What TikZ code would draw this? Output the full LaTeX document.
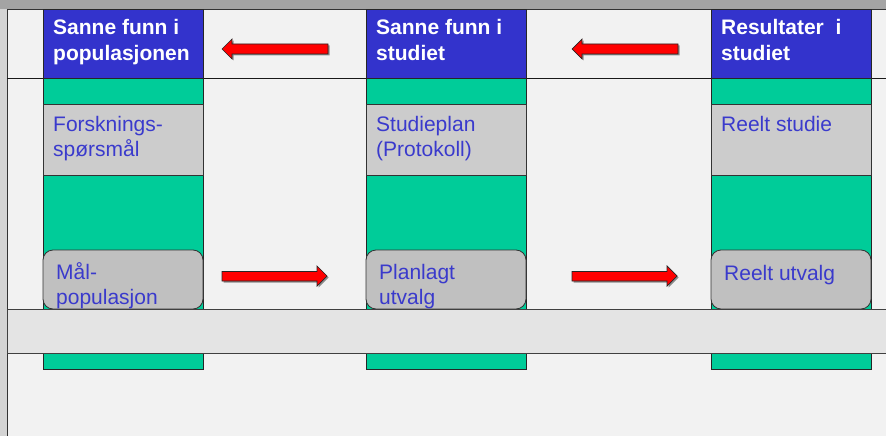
\documentclass[tikz,border=0pt]{standalone}
\usepackage{fontspec}
\setmainfont{Liberation Sans}
\definecolor{bgc}{HTML}{F2F2F2}
\definecolor{topbar}{HTML}{A4A4A4}
\definecolor{sidebar}{HTML}{D4D4D4}
\definecolor{hdrblue}{HTML}{3333CC}
\definecolor{colgreen}{HTML}{00CC99}
\definecolor{boxgray}{HTML}{CCCCCC}
\definecolor{rndgray}{HTML}{C0C0C0}
\definecolor{bandgray}{HTML}{E4E4E4}
\definecolor{txtblue}{HTML}{3A3ACC}
\definecolor{arrred}{HTML}{FF0000}
\begin{document}
\begin{tikzpicture}[x=1pt,y=-1pt,
  colgreenbox/.style={fill=colgreen,draw=black!85,line width=0.8pt},
  hdrbox/.style={fill=hdrblue,draw=black!85,line width=0.8pt},
  graybox/.style={fill=boxgray,draw=black!80,line width=0.8pt},
  rndbox/.style={fill=rndgray,draw=black!80,line width=0.8pt,rounded corners=10pt},
  hdrtxt/.style={anchor=base west,inner sep=0pt,text=white,font=\fontsize{21}{25}\selectfont\bfseries},
  bodytxt/.style={anchor=base west,inner sep=0pt,text=txtblue,font=\fontsize{21}{25}\selectfont},
  blockarrow/.style={fill=arrred,draw=black!85,line width=0.7pt,line join=miter},
  arrshadow/.style={fill=black!45,draw=none}
]
\useasboundingbox (0,0) rectangle (886,436);
% background
\fill[bgc] (0,0) rectangle (886,436);
\fill[topbar] (0,0) rectangle (886,9);
\fill[sidebar] (0,9) rectangle (6.5,436);
\draw[black!80,line width=0.8pt] (7,9) -- (7,436);
\draw[black!80,line width=0.8pt] (7,9.5) -- (886,9.5);
\draw[black!90,line width=0.8pt] (7,78) -- (886,78);

% columns
\foreach \cx/\nm in {43/a,366/b,711/c}{
  \path[colgreenbox] (\cx,78) rectangle (\cx+160,369);
  \path[hdrbox] (\cx,9.5) rectangle (\cx+160,78);
  \path[graybox] (\cx,104) rectangle (\cx+160,175);
  \path[rndbox] (\cx,250) rectangle (\cx+160,309);
}
% band
\path[fill=bandgray,draw=black!75,line width=0.8pt] (7,309) rectangle (887,353);

% header texts
\node[hdrtxt] (h1a) at (53,35) {Sanne funn i};
\node[hdrtxt] (h1b) at (53,61) {populasjonen};
\node[hdrtxt] (h2a) at (376,35) {Sanne funn i};
\node[hdrtxt] (h2b) at (376,61) {studiet};
\node[hdrtxt] (h3a) at (721,35) {Resultater~ i};
\node[hdrtxt] (h3b) at (721,61) {studiet};

% gray box texts
\node[bodytxt] (g1a) at (53,131) {Forsknings-};
\node[bodytxt] (g1b) at (53,156) {spørsmål};
\node[bodytxt] (g2a) at (376,131) {Studieplan};
\node[bodytxt] (g2b) at (376,156) {(Protokoll)};
\node[bodytxt] (g3a) at (721,131) {Reelt studie};

% rounded box texts
\node[bodytxt] (r1a) at (56,279) {Mål-};
\node[bodytxt] (r1b) at (56,304) {populasjon};
\node[bodytxt] (r2a) at (379,279) {Planlagt};
\node[bodytxt] (r2b) at (379,304) {utvalg};
\node[bodytxt] (r3a) at (724,280) {Reelt utvalg};

% left-pointing arrows (top row)
\foreach \sx in {222,572}{
  \path[arrshadow,shift={(1.5,1.5)}] (\sx,49) -- (\sx+10,39) -- (\sx+10,44) -- (\sx+106,44) -- (\sx+106,54) -- (\sx+10,54) -- (\sx+10,59) -- cycle;
  \path[blockarrow] (\sx,49) -- (\sx+10,39) -- (\sx+10,44) -- (\sx+106,44) -- (\sx+106,54) -- (\sx+10,54) -- (\sx+10,59) -- cycle;
}
% right-pointing arrows (bottom row)
\foreach \sx in {222,572}{
  \path[arrshadow,shift={(1.5,1.5)}] (\sx+105,276) -- (\sx+95,266) -- (\sx+95,271.5) -- (\sx,271.5) -- (\sx,281) -- (\sx+95,281) -- (\sx+95,286) -- cycle;
  \path[blockarrow] (\sx+105,276) -- (\sx+95,266) -- (\sx+95,271.5) -- (\sx,271.5) -- (\sx,281) -- (\sx+95,281) -- (\sx+95,286) -- cycle;
}
\end{tikzpicture}
\end{document}
